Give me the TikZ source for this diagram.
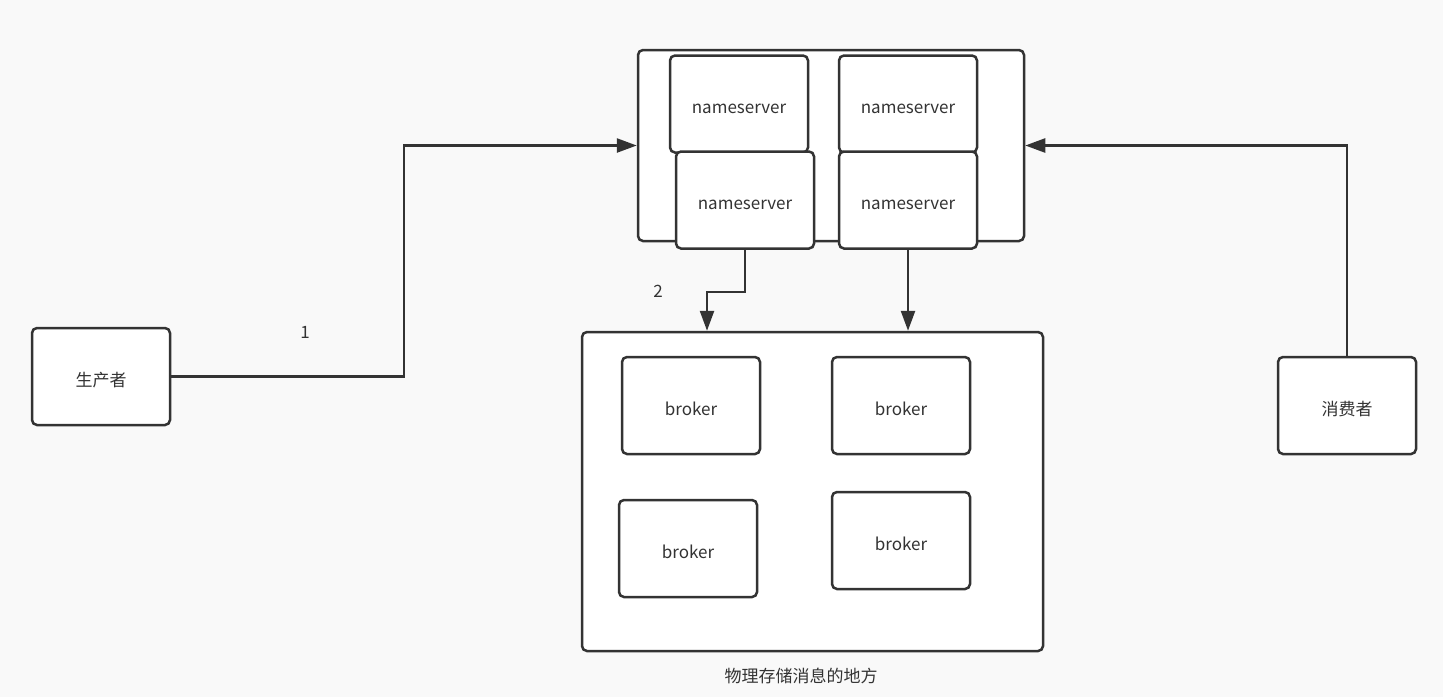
\documentclass[tikz,border=0pt]{standalone}
\usepackage{fontspec}
\setmainfont{Noto Sans CJK SC}
\usetikzlibrary{arrows.meta}
\definecolor{ink}{HTML}{333333}
\definecolor{paper}{HTML}{F9F9F9}
\begin{document}
\begin{tikzpicture}[x=0.5pt,y=-0.5pt,
  txt/.style={text=ink, font=\fontsize{8.5}{10}\selectfont},
  box/.style={txt, draw=ink, fill=white, line width=1.25pt, rounded corners=2.5pt,
    minimum width=69pt, minimum height=48.5pt, inner sep=0pt,
    text height=9.5pt, text depth=0pt},
  group/.style={draw=ink, fill=white, line width=1.25pt, rounded corners=2.5pt, inner sep=0pt},
  flow/.style={draw=ink, line width=1.25pt, -{Triangle[length=10pt,width=7pt]}}
]
  % canvas
  \fill[paper] (0,0) rectangle (1443,697);
  \useasboundingbox (0,0) rectangle (1443,697);

  % name server cluster
  \node[group, minimum width=193pt, minimum height=95.5pt] (nsgroup) at (831,145.5) {};
  \node[box] (ns1) at (739,104) {nameserver};
  \node[box] (ns2) at (908,104) {nameserver};
  \node[box] (ns3) at (745,200) {nameserver};
  \node[box] (ns4) at (908,200) {nameserver};

  % broker cluster
  \node[group, minimum width=230.5pt, minimum height=159.5pt] (bgroup) at (812.5,491.5) {};
  \node[box] (b1) at (691,405.5) {broker};
  \node[box] (b2) at (901,405.5) {broker};
  \node[box] (b3) at (688,548.5) {broker};
  \node[box] (b4) at (901,540.5) {broker};
  \node[txt] (blabel) at (801,676) {物理存储消息的地方};

  % clients
  \node[box] (prod) at (101,376.5) {生产者};
  \node[box] (cons) at (1347,405.5) {消费者};

  % connectors
  \coordinate (pbend) at (404,145.5);
  \draw[flow] (prod.east) -| (pbend) -- (nsgroup.west);
  \draw[flow] (cons.north) |- (nsgroup.east);
  \coordinate (nbend) at (707,292);
  \draw[flow] (ns3.south) |- (nbend) -- (nbend |- bgroup.north);
  \draw[flow] (ns4.south) -- (ns4.south |- bgroup.north);

  % step numbers
  \node[txt] (n1) at (305,332) {1};
  \node[txt] (n2) at (658,291) {2};
\end{tikzpicture}
\end{document}
